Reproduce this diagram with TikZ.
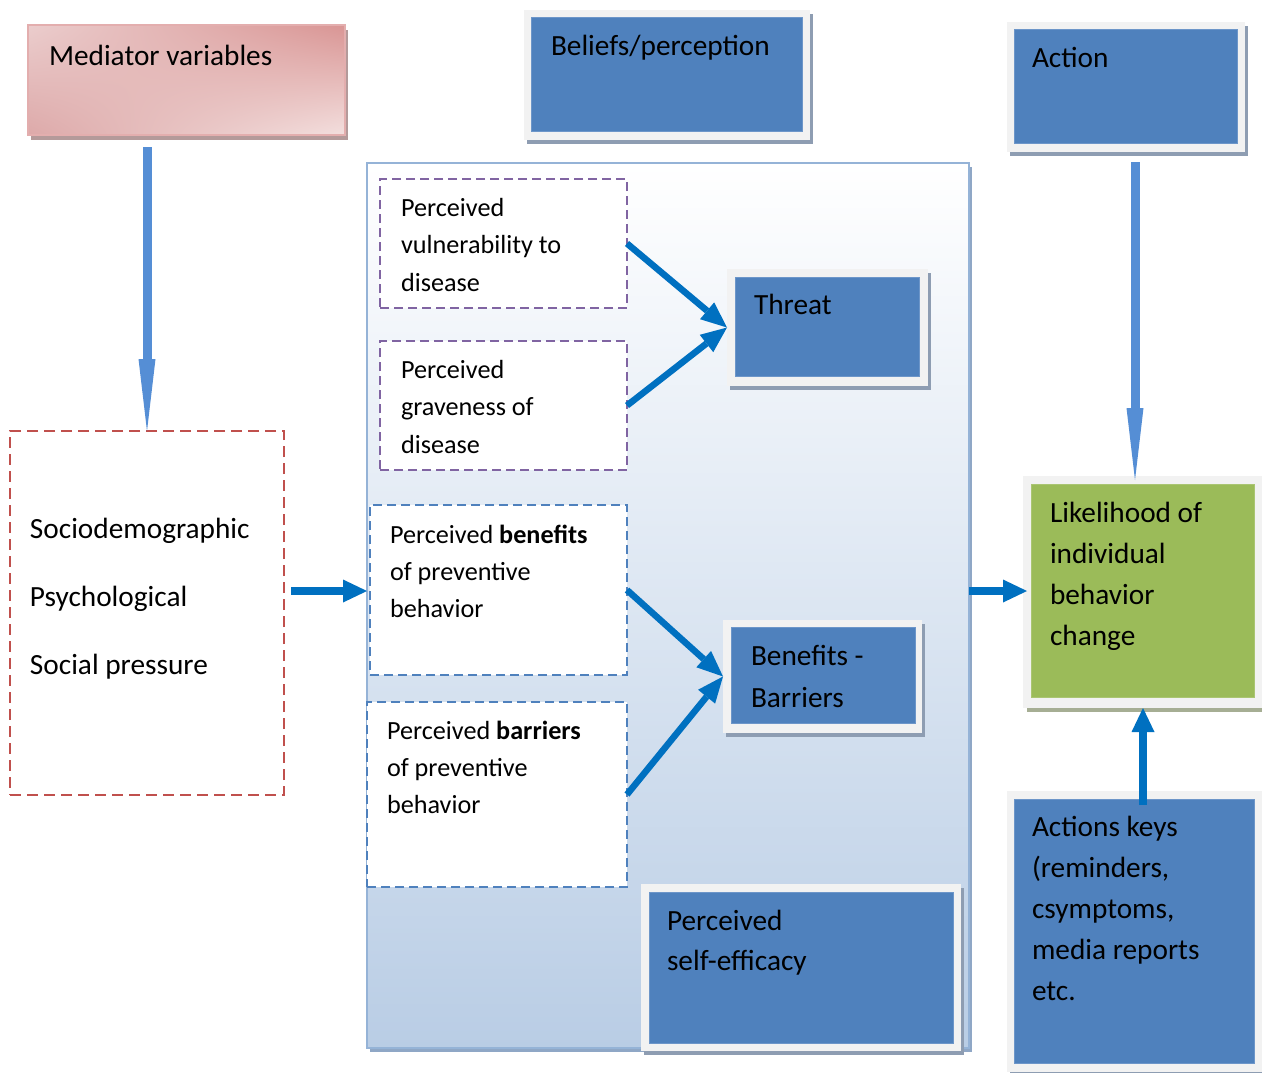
\documentclass[tikz,border=0pt]{standalone}
\usepackage{fontspec}
\setmainfont{Carlito}
\usetikzlibrary{arrows.meta,shadows,shadings,calc}
\definecolor{boxblue}{HTML}{4F81BD}
\definecolor{boxedge}{HTML}{6D96C9}
\definecolor{framegray}{HTML}{F2F2F2}
\definecolor{shadowblue}{HTML}{8E9DB2}
\definecolor{arrowdark}{HTML}{0070C0}
\definecolor{arrowlight}{HTML}{558ED5}
\definecolor{dashpurple}{HTML}{8064A2}
\definecolor{dashred}{HTML}{C0504D}
\definecolor{panelborder}{HTML}{95B3D7}
\definecolor{panelmid}{HTML}{E2E9F4}
\definecolor{panelbottom}{HTML}{B9CDE5}
\definecolor{panelshadow}{HTML}{8FA7C6}
\definecolor{likegreen}{HTML}{9BBB59}
\definecolor{greenshadow}{HTML}{A6AE94}
\definecolor{medborder}{HTML}{E3AEAE}
\definecolor{medshadow}{HTML}{B49A9A}
\definecolor{medA}{HTML}{EBCDCD}
\definecolor{medB}{HTML}{D99594}
\definecolor{medC}{HTML}{DDA9A9}
\definecolor{medD}{HTML}{F3DFDE}
\begin{document}
\begin{tikzpicture}[x=1pt,y=-1pt,
  shapebox/.style={rectangle, inner sep=0pt, outer sep=0pt, anchor=north west},
  framebox/.style={shapebox, fill=framegray, general shadow={fill=shadowblue, shadow xshift=3pt, shadow yshift=-4pt}},
  innerblue/.style={shapebox, fill=boxblue, draw=boxedge, line width=0.8pt},
  dashp/.style={shapebox, fill=white, draw=dashpurple, line width=2.5pt, dash pattern=on 9pt off 5pt},
  dashb/.style={shapebox, fill=white, draw=boxblue, line width=2.5pt, dash pattern=on 9pt off 5pt},
  dashr/.style={shapebox, draw=dashred, line width=2.5pt, dash pattern=on 11pt off 6pt},
  bigtxt/.style={inner sep=0pt, outer sep=0pt, anchor=north west, align=left, font=\fontsize{29.3pt}{#1pt}\selectfont},
  smalltxt/.style={inner sep=0pt, outer sep=0pt, anchor=north west, align=left, font=\fontsize{26.2pt}{#1pt}\selectfont},
  thickarrow/.style={draw=arrowdark, line width=7.5pt, -{Triangle[length=24pt,width=23pt,line width=0pt]}},
  diagarrow/.style={draw=arrowdark, line width=6.5pt, -{Triangle[length=26pt,width=22pt,line width=0pt]}},
  longarrow/.style={draw=arrowlight, line width=9pt, -{Triangle[length=72pt,width=17pt,line width=0pt]}}
]
\useasboundingbox (0,0) rectangle (1262,1072);
\fill[white] (0,0) rectangle (1262,1072);

% big beliefs panel
\node[shapebox, minimum width=602pt, minimum height=885pt, top color=white, middle color=panelmid, bottom color=panelbottom,
      draw=panelborder, line width=2pt,
      general shadow={fill=panelshadow, shadow xshift=3pt, shadow yshift=-4pt}] (panel) at (367,163) {};

% mediator box
\node[shapebox, minimum width=317pt, minimum height=110pt, upper left=medA, upper right=medB, lower left=medC, lower right=medD,
      draw=medborder, line width=1.5pt,
      general shadow={fill=medshadow, shadow xshift=3pt, shadow yshift=-5pt}] (med) at (28,25) {};

% left dashed box
\node[dashr, minimum width=274pt, minimum height=364pt] (leftbox) at (10,431) {};

% dashed perception boxes
\node[dashp, minimum width=247pt, minimum height=129pt] (vuln) at (380,179) {};
\node[dashp, minimum width=247pt, minimum height=129pt] (grave) at (380,341) {};
\node[dashb, minimum width=257pt, minimum height=170pt] (benef) at (370,505) {};
\node[dashb, minimum width=260pt, minimum height=185pt] (barr) at (367,702) {};

% framed blue boxes
\node[framebox, minimum width=286pt, minimum height=130pt] (beliefsf) at (524,10) {};
\node[innerblue, minimum width=271pt, minimum height=114pt] (beliefs) at (531,17) {};
\node[framebox, minimum width=238pt, minimum height=130pt] (actionf) at (1007,22) {};
\node[innerblue, minimum width=223pt, minimum height=114pt] (action) at (1014,29) {};
\node[framebox, minimum width=201pt, minimum height=117pt] (threatf) at (727,269) {};
\node[innerblue, minimum width=184pt, minimum height=99pt] (threat) at (735,277) {};
\node[framebox, minimum width=199pt, minimum height=113pt] (benbarf) at (723,620) {};
\node[innerblue, minimum width=184pt, minimum height=96pt] (benbar) at (731,627) {};
\node[framebox, minimum width=320pt, minimum height=167pt] (selfefff) at (641,884) {};
\node[innerblue, minimum width=304pt, minimum height=151pt] (selfeff) at (649,892) {};
\node[shapebox, fill=framegray, minimum width=239pt, minimum height=232pt,
      general shadow={fill=greenshadow, shadow xshift=4pt, shadow yshift=-4pt}] (lkf) at (1023,476) {};
\node[shapebox, fill=likegreen, draw=likegreen!85!white, line width=0.8pt, minimum width=223pt, minimum height=213pt] (lk) at (1031,484) {};
\node[framebox, minimum width=255pt, minimum height=281pt] (keysf) at (1007,791) {};
\node[innerblue, minimum width=240pt, minimum height=264pt] (keys) at (1014,799) {};

% connectors
\coordinate (medout) at (147,147);
\draw[longarrow] (medout) -- (leftbox.north);
\coordinate (actout) at (1135,162);
\coordinate (actin) at (1135,480);
\draw[longarrow] (actout) -- (actin);
\coordinate (leftout) at (291,591);
\draw[thickarrow] (leftout) -- (leftout -| panel.west);
\coordinate (lkin) at (1027,591);
\draw[thickarrow] (panel.east |- lkin) -- (lkin);
\coordinate (keysout) at (1143,805);
\draw[thickarrow] (keysout) -- (keysout |- lkf.south);
\draw[diagarrow] (vuln.east) -- (threatf.west);
\draw[diagarrow] (grave.east) -- (threatf.west);
\draw[diagarrow] (benef.east) -- (benbarf.west);
\draw[diagarrow] (barr.east) -- (benbarf.west);

% texts
\node[bigtxt=41] (medtxt) at (49,36.3) {\strut Mediator variables};
\node[bigtxt=41] (beliefstxt) at (551,26.8) {\strut Beliefs/perception};
\node[bigtxt=41] (actiontxt) at (1032,38.3) {\strut Action};
\node[bigtxt=41] (threattxt) at (754,285.3) {\strut Threat};
\node[bigtxt=42] (benbartxt) at (751,635.6) {\strut Benefits -\\Barriers};
\node[bigtxt=40.5] (selfefftxt) at (667,901.7) {\strut Perceived\\self-efficacy};
\node[bigtxt=41] (lktxt) at (1050,493.3) {\strut Likelihood of\\individual\\behavior\\change};
\node[bigtxt=41] (keystxt) at (1032,807.3) {\strut Actions keys\\(reminders,\\csymptoms,\\media reports\\etc.};
\node[bigtxt=68] (lefttxt) at (30,490.4) {\strut Sociodemographic\\Psychological\\Social pressure};
\node[smalltxt=37.5] (vulntxt) at (401,189.75) {\strut Perceived\\vulnerability to\\disease};
\node[smalltxt=37.5] (gravetxt) at (401,351.75) {\strut Perceived\\graveness of\\disease};
\node[smalltxt=37] (beneftxt) at (390,517.1) {\strut Perceived \textbf{benefits}\\of preventive\\behavior};
\node[smalltxt=37] (barrtxt) at (387,713.1) {\strut Perceived \textbf{barriers}\\of preventive\\behavior};
\end{tikzpicture}
\end{document}
